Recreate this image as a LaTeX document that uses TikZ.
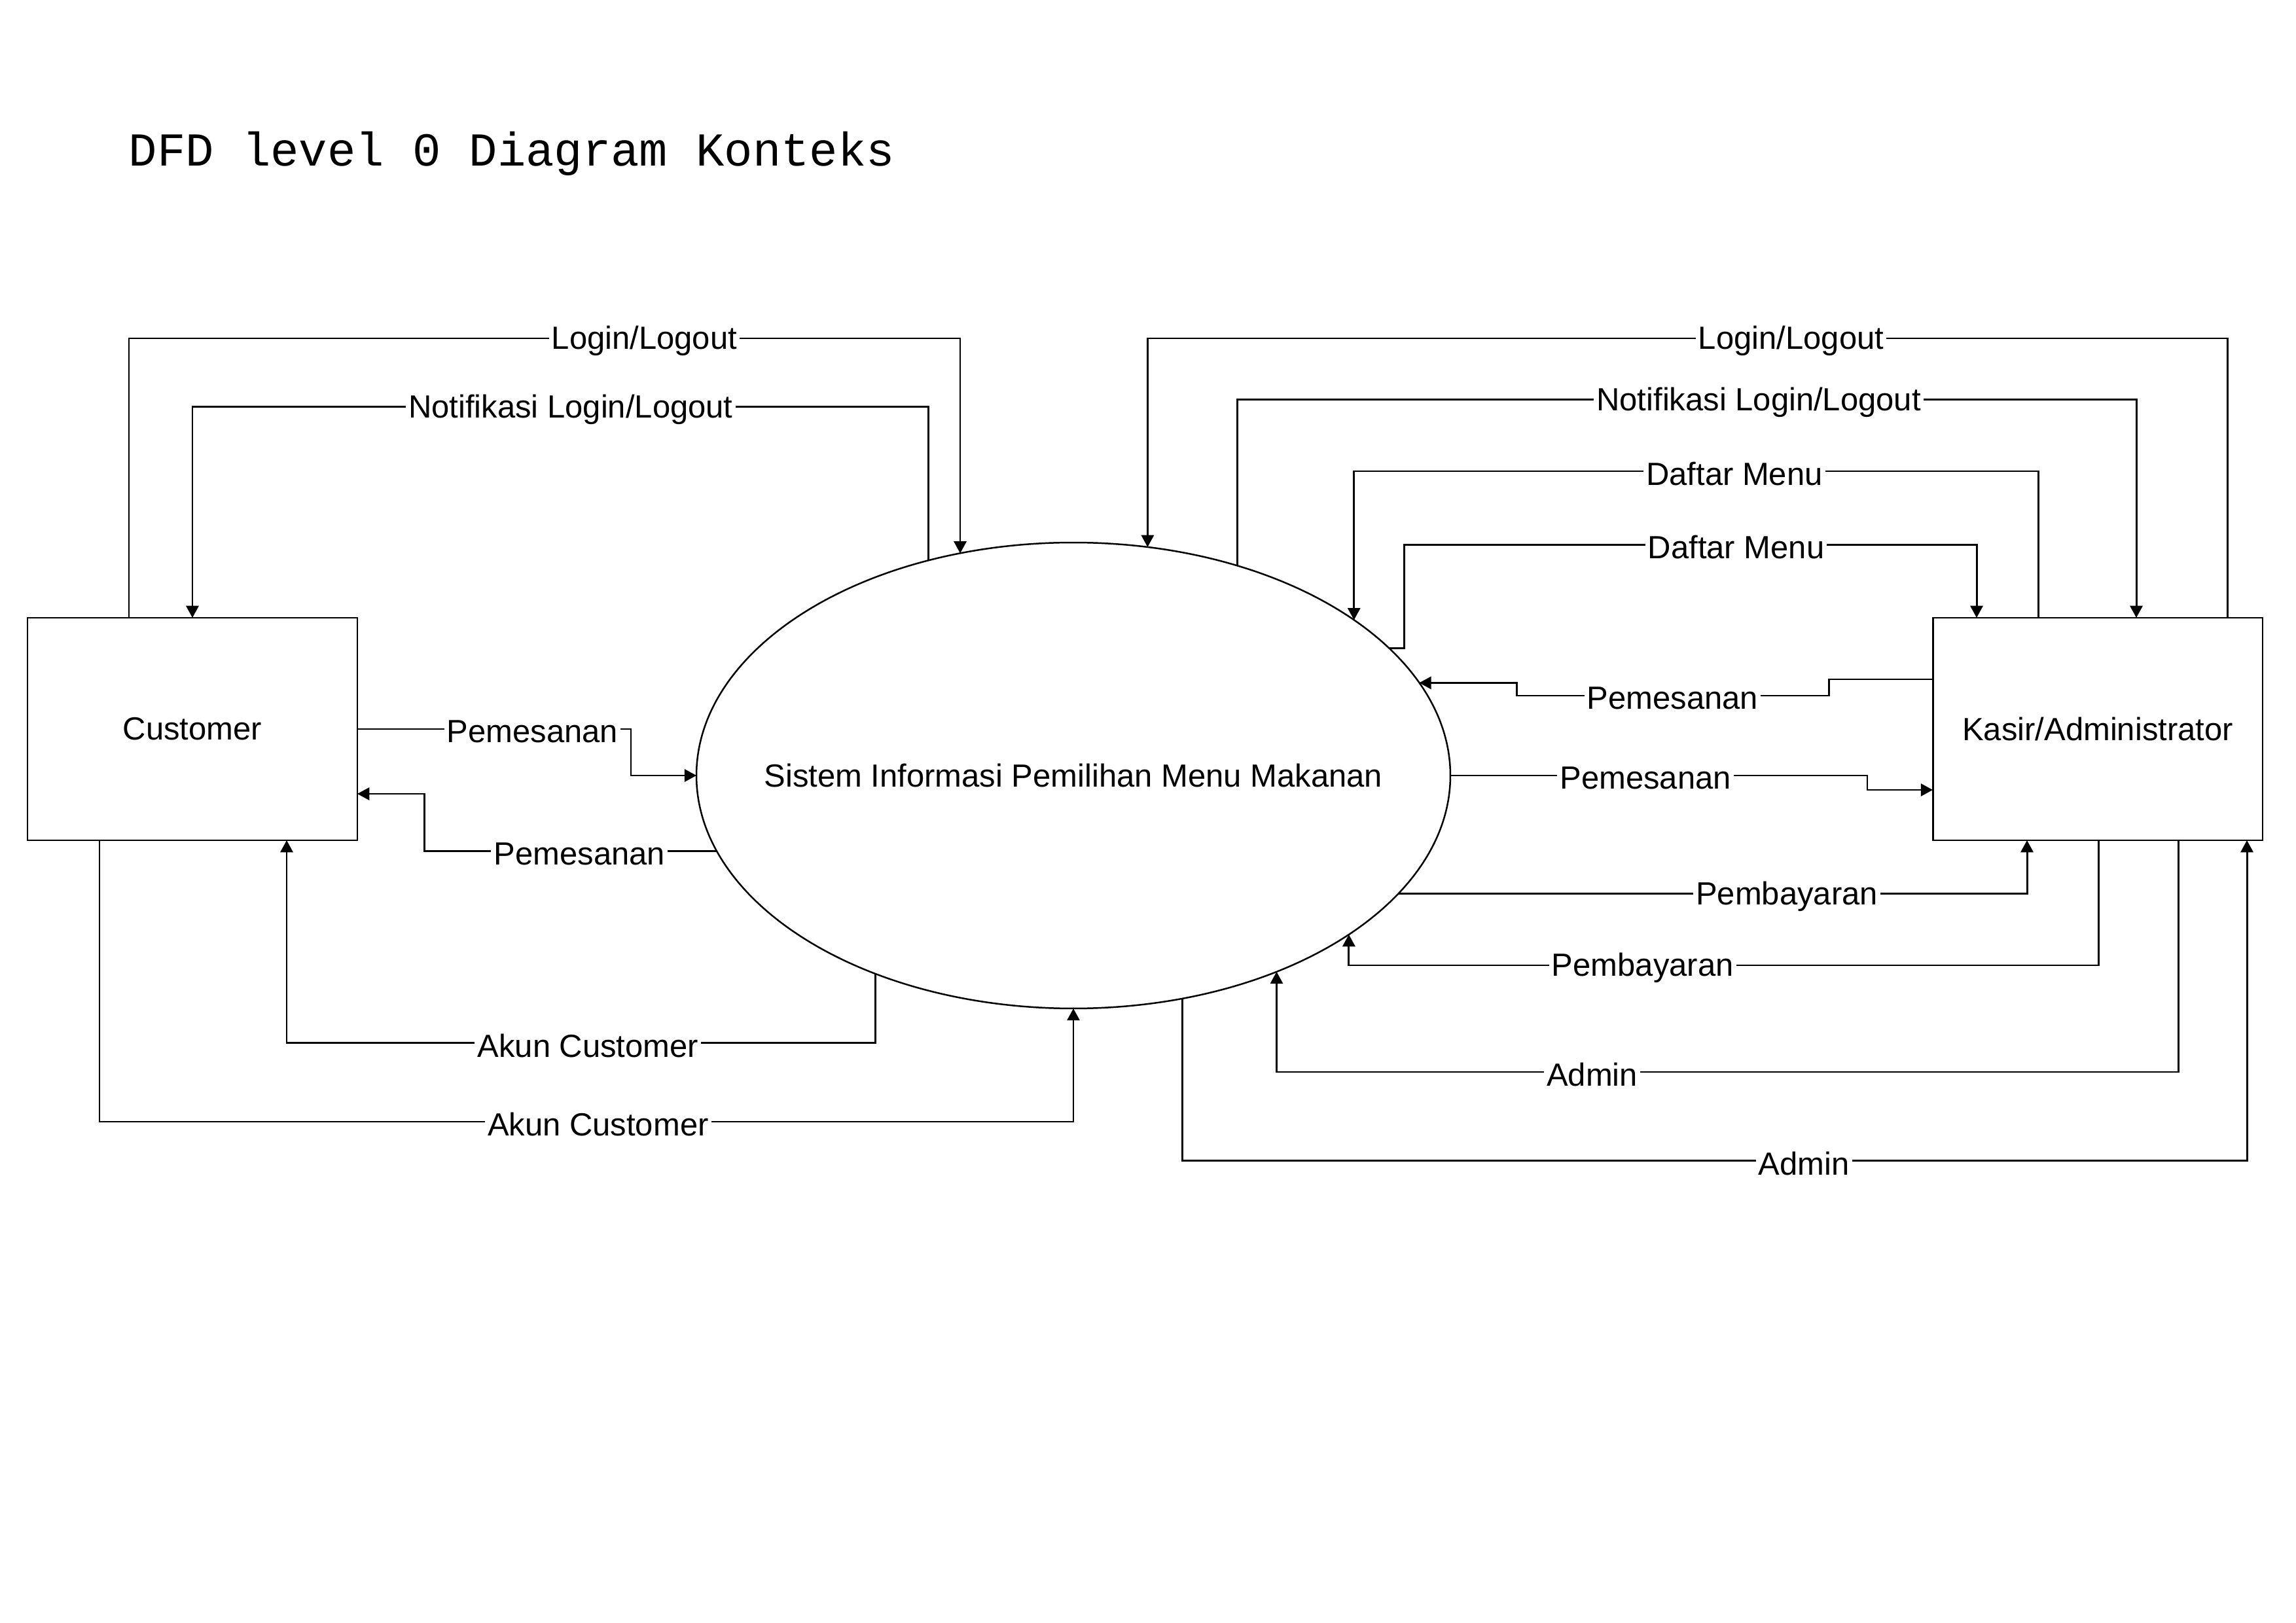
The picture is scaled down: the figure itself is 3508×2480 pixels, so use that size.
\documentclass[tikz,border=0pt]{standalone}
\usepackage{fontspec}
\setmainfont{Liberation Sans}
\newfontfamily\titlefnt{Liberation Mono}
\usetikzlibrary{arrows.meta,calc,shapes.geometric}
\begin{document}
\begin{tikzpicture}[x=0.084664mm,y=-0.084664mm,
  every node/.style={font=\fontsize{11.8pt}{14pt}\selectfont},
  entity/.style={draw, line width=0.7pt, minimum width=42.67mm, minimum height=28.79mm, inner sep=0pt, outer sep=0pt},
  proc/.style={draw, ellipse, line width=0.6pt, minimum width=97.53mm, minimum height=60.28mm, inner sep=0pt, outer sep=0pt},
  flow/.style={line width=0.7pt, -{Triangle[length=4.4pt,width=4.6pt]}},
  lbl/.style={fill=white, inner xsep=1pt, inner ysep=0.5pt, yshift=-1pt}]
\useasboundingbox (0,0) rectangle (3508,2480);
\node[anchor=west, font=\titlefnt\fontsize{17.4pt}{20pt}\selectfont] (title) at (182,235) {DFD level 0 Diagram Konteks};
\node[entity] (C) at (294,1114) {Customer};
\node[entity] (K) at (3205,1114) {Kasir/Administrator};
\node[proc, label={center:Sistem Informasi Pemilihan Menu Makanan}] (P) at (1640,1185) {};
% left side
\draw[flow] ($(C.north west)+(155,0)$) -- ++(0,-427) -| node[lbl,pos=0.31]{Login/Logout} (P.117.3);
\draw[flow] (P.124.3) -- ++(0,-235) -| node[lbl,pos=0.243]{Notifikasi Login/Logout} (C.north);
\draw[flow] (C.east) -- node[lbl,pos=0.64]{Pemesanan} ++(418,0) |- (P.west);
\draw[flow] (P.192.4) -- node[lbl,pos=0.47]{Pemesanan} ++(-447,0) |- ($(C.east)+(0,99)$);
\draw[flow] (P.225.7) -- ++(0,106) -| node[lbl,pos=0.244]{Akun Customer} ($(C.south west)+(396,0)$);
\draw[flow] ($(C.south west)+(110,0)$) -- ++(0,430) -| node[lbl,pos=0.256]{Akun Customer} (P.south);
% right side
\draw[flow] ($(K.north west)+(450,0)$) -- ++(0,-427) -| node[lbl,pos=0.202]{Login/Logout} (P.72.5);
\draw[flow] (P.52.3) -- ++(0,-254) -| node[lbl,pos=0.29]{Notifikasi Login/Logout} ($(K.north west)+(311,0)$);
\draw[flow] ($(K.north west)+(161,0)$) -- ++(0,-224) -| node[lbl,pos=0.222]{Daftar Menu} (P.29.5);
\draw[flow] (P.22.3) -- ++(23,0) -- ++(0,-158) -| node[lbl,pos=0.29]{Daftar Menu} ($(K.north west)+(67,0)$);
\draw[flow] ($(K.west)+(0,-76)$) -- ++(-159,0) -- ++(0,25) -- node[lbl,pos=0.5]{Pemesanan} ++(-477,0) |- (P.15.6);
\draw[flow] (P.east) -- node[lbl,pos=0.468]{Pemesanan} ++(637,0) |- ($(K.west)+(0,93)$);
\draw[flow] (P.340.4) -| node[lbl,pos=0.309]{Pembayaran} ($(K.south west)+(144,0)$);
\draw[flow] ($(K.south west)+(253,0)$) -- ++(0,191) -| node[lbl,pos=0.304]{Pembayaran} (P.330);
\draw[flow] ($(K.south west)+(375,0)$) -- ++(0,354) -| node[lbl,pos=0.325]{Admin} (P.316);
\draw[flow] (P.296.6) -- ++(0,248) -| node[lbl,pos=0.292]{Admin} ($(K.south west)+(480,0)$);
\end{tikzpicture}
\end{document}
